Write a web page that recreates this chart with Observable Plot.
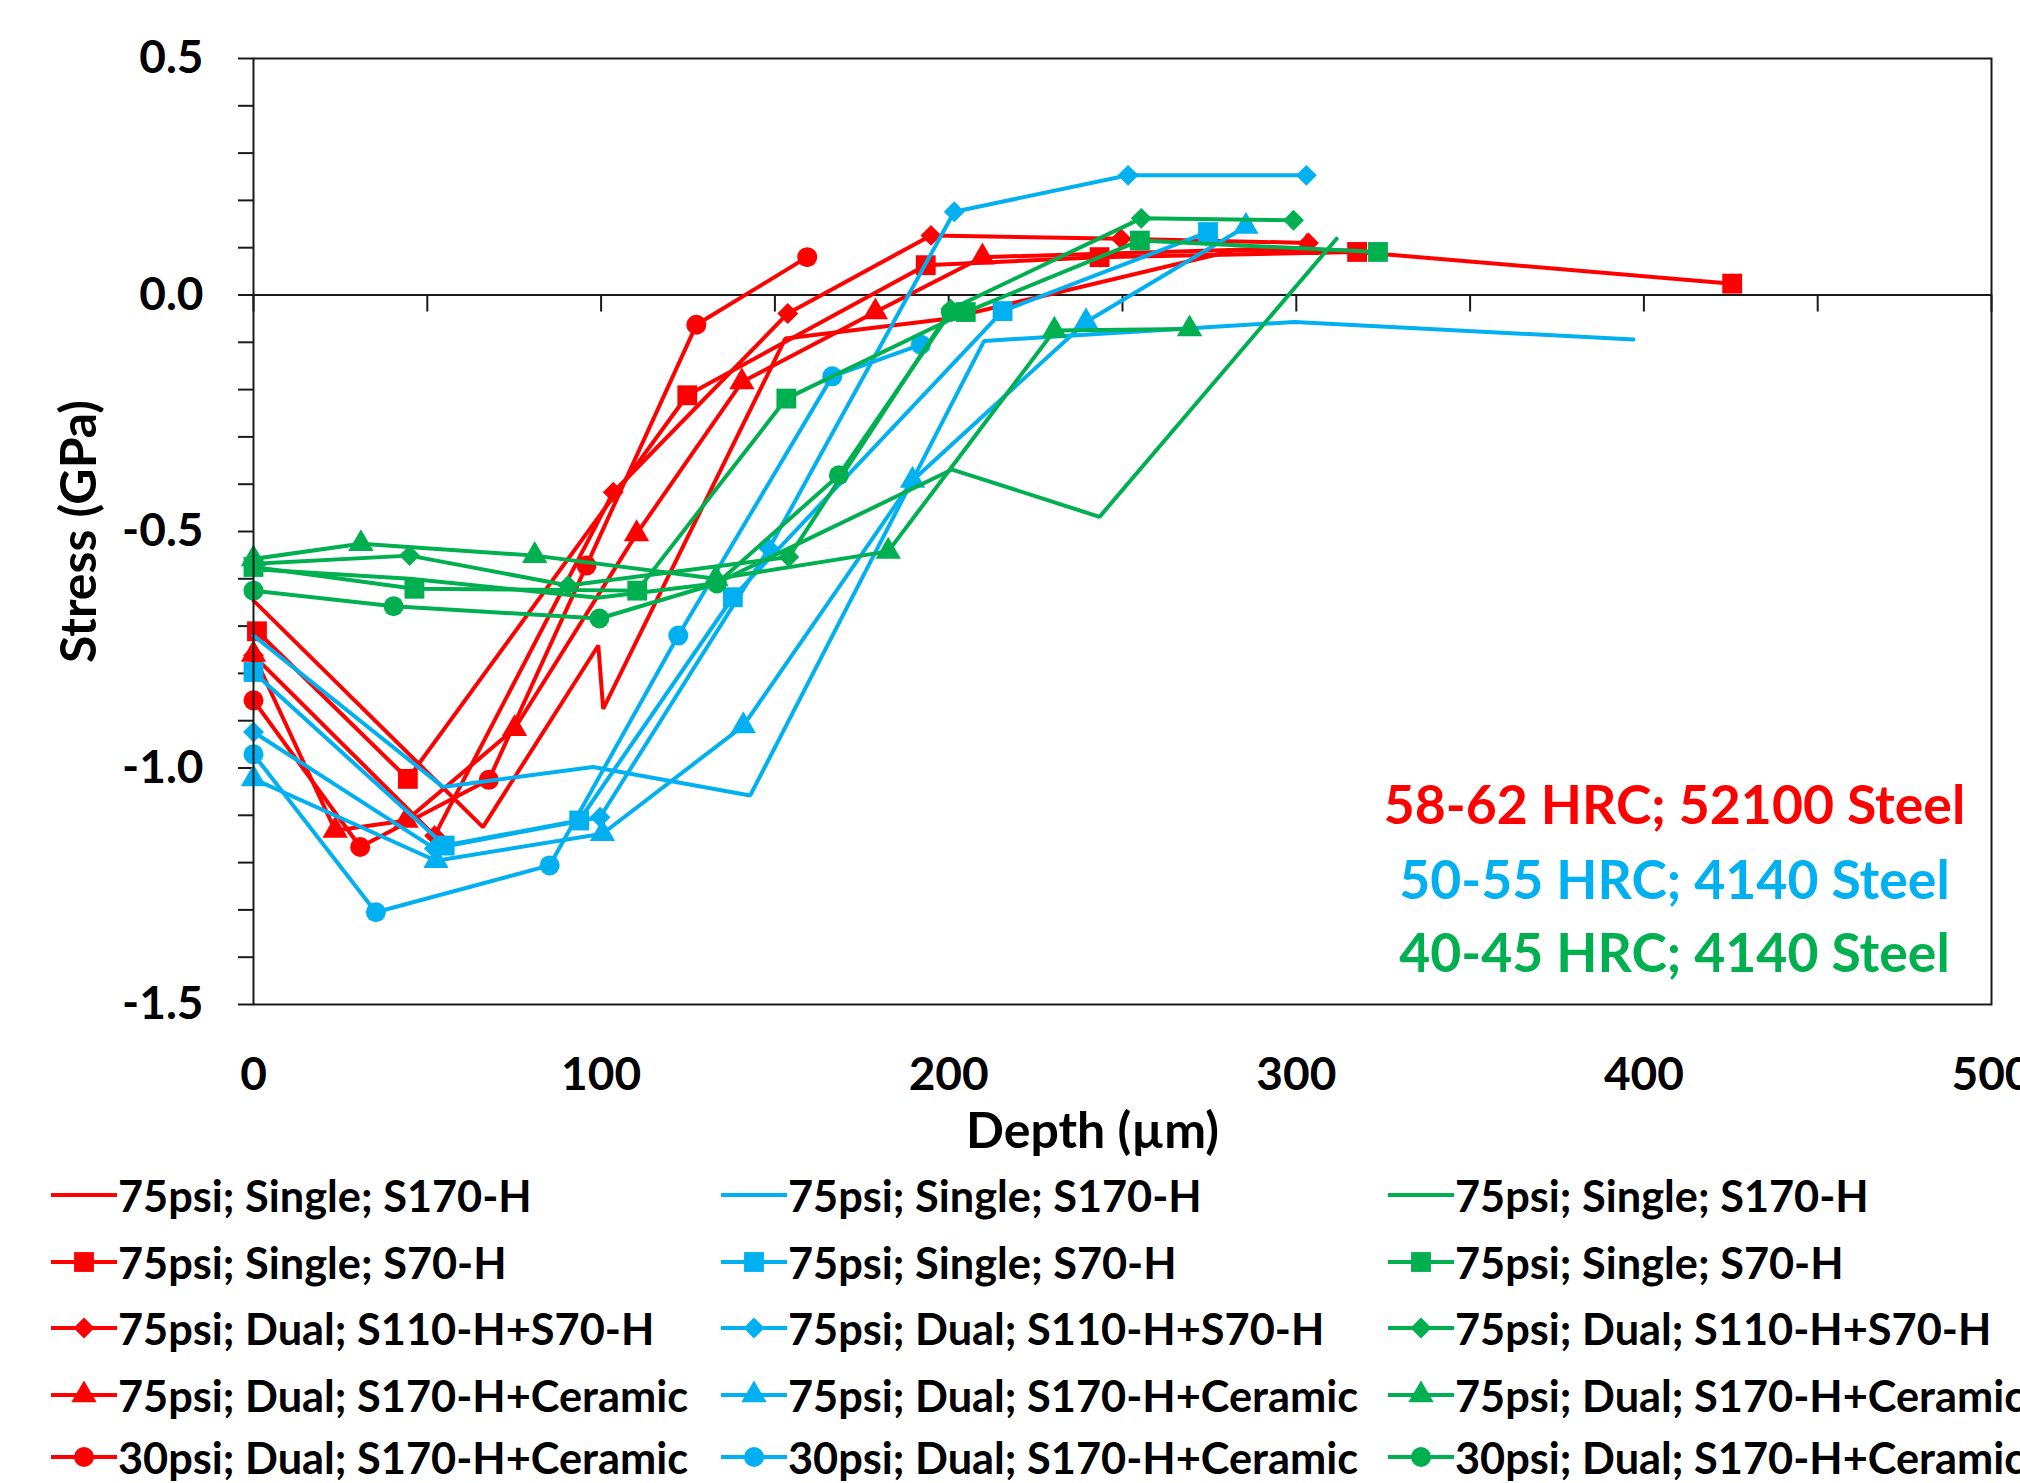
<!DOCTYPE html>
<html><head><meta charset="utf-8">
<script src="https://cdn.jsdelivr.net/npm/d3@7"></script>
<script src="https://cdn.jsdelivr.net/npm/@observablehq/plot@0.6"></script>
<style>
body{margin:0;background:#fff;width:2020px;height:1483px;overflow:hidden;font-family:Lato,sans-serif;font-weight:700}
#chart svg{font-family:Lato,sans-serif !important;font-weight:700}
#legend{position:relative;height:318px;width:2020px;overflow:hidden}
.item{position:absolute;display:flex;align-items:center;height:60px;font-size:43.3px;white-space:nowrap;color:#000}
.item svg{flex:none}
</style></head><body><div id="chart"></div><div id="legend"></div>
<script>
// ---- data: [depth (µm), stress (GPa)] ----
// 58-62 HRC; 52100 Steel (red)
const redSingle  = [[0,-0.646],[66,-1.125],[99.2,-0.741],[100.6,-0.875],[153,-0.092],[199.7,-0.05],[282,0.094],[318,0.094]];
const redS70     = [[1,-0.711],[44.4,-1.023],[124.8,-0.212],[193.4,0.063],[243.4,0.080],[317.5,0.091],[425.4,0.024]];
const redDual110 = [[0,-0.762],[52.1,-1.143],[103.5,-0.417],[153.7,-0.039],[194.9,0.126],[249.6,0.119],[303.5,0.110]];
const redDual170 = [[0,-0.76],[23.5,-1.132],[43.9,-1.111],[75.1,-0.917],[110.2,-0.505],[140.5,-0.184],[178.9,-0.036],[209.7,0.080],[303,0.10]];
const redCirc30  = [[0,-0.857],[30.7,-1.167],[67.7,-1.025],[95.8,-0.572],[127.4,-0.063],[159.3,0.080]];
// 50-55 HRC; 4140 Steel (blue)
const blueSingle  = [[0,-0.72],[54.5,-1.04],[97.7,-0.998],[142.9,-1.058],[210.2,-0.097],[299.5,-0.057],[397,-0.094]];
const blueS70     = [[0,-0.797],[55,-1.164],[93.7,-1.111],[137.9,-0.639],[215.5,-0.034],[274.6,0.133]];
const blueDual110 = [[0,-0.924],[52,-1.17],[99.7,-1.104],[148.3,-0.536],[201.6,0.176],[251.6,0.253],[302.9,0.253]];
const blueDual170 = [[0,-1.023],[52.5,-1.196],[100.4,-1.139],[140.9,-0.911],[189.6,-0.392],[239.5,-0.057],[285.5,0.145]];
const blueCirc30  = [[0,-0.971],[35.2,-1.305],[85.2,-1.206],[122.2,-0.720],[166.5,-0.172],[192,-0.105]];
// 40-45 HRC; 4140 Steel (green)
const greenSingle  = [[0,-0.58],[45,-0.6],[99,-0.64],[133,-0.61],[201,-0.369],[243.4,-0.469],[311.6,0.119]];
const greenS70     = [[0,-0.575],[46.3,-0.621],[110.4,-0.625],[153.3,-0.219],[204.9,-0.036],[255,0.115],[323.5,0.091]];
const greenDual110 = [[0,-0.568],[44.9,-0.551],[90.5,-0.614],[154,-0.554],[200.6,-0.03],[255.4,0.162],[299.2,0.158]];
const greenDual170 = [[0,-0.558],[30.9,-0.526],[80.9,-0.551],[133,-0.6],[182.6,-0.542],[230.4,-0.075],[269.3,-0.072]];
const greenCirc30  = [[0,-0.625],[40.3,-0.658],[99.5,-0.684],[133.3,-0.610],[168.4,-0.381],[200.6,-0.036]];

const seriesLabels = ["75psi; Single; S170-H","75psi; Single; S70-H","75psi; Dual; S110-H+S70-H","75psi; Dual; S170-H+Ceramic","30psi; Dual; S170-H+Ceramic"];
const groupLabels = ["58-62 HRC; 52100 Steel","50-55 HRC; 4140 Steel","40-45 HRC; 4140 Steel"];
const yTicks = d3.range(-15, 6).map(i => i / 10);
const xMinorTicks = d3.range(0, 501, 50);
const xLabelTicks = d3.range(0, 501, 100);

// ---- styling ----
const colors = ["#FF0000", "#00B0F0", "#00B050"];
const symbols = [null, "square", "diamond2", "triangle", "circle"];
const radii = [0, 11.2, 9.4, 9.4, 10];
const d3sym = {square: d3.symbolSquare, diamond2: d3.symbolDiamond2, triangle: d3.symbolTriangle, circle: d3.symbolCircle};
const groups = [
  [redSingle, redS70, redDual110, redDual170, redCirc30],
  [blueSingle, blueS70, blueDual110, blueDual170, blueCirc30],
  [greenSingle, greenS70, greenDual110, greenDual170, greenCirc30]
];
const axisColor = "#1a1a1a";

const marks = [];
groups.forEach((g, gi) => g.forEach((pts, si) => {
  marks.push(Plot.line(pts, {x: d => d[0], y: d => d[1], stroke: colors[gi], strokeWidth: 4, strokeLinejoin: "miter"}));
  if (symbols[si]) marks.push(Plot.dot(pts, {x: d => d[0], y: d => d[1], symbol: symbols[si], r: radii[si], fill: colors[gi], stroke: "none"}));
}));

const chart = Plot.plot({
  width: 2020, height: 1165,
  marginLeft: 253, marginRight: 29, marginTop: 58, marginBottom: 161,
  x: {domain: [0, 500]},
  y: {domain: [-1.5, 0.5]},
  marks: [
    Plot.ruleY([0], {stroke: axisColor, strokeWidth: 2}),
    Plot.ruleX(xMinorTicks, {x: d => d, y1: 0, y2: -0.036, stroke: axisColor, strokeWidth: 2}),
    Plot.axisY({ticks: yTicks, tickSize: 15, tickPadding: 35, strokeWidth: 2, stroke: axisColor, fontSize: 46, label: null,
      tickFormat: d => (Math.round(d * 10) % 5 === 0 ? d.toFixed(1) : "")}),
    Plot.axisX({ticks: xLabelTicks, tickSize: 0, tickPadding: 53, fontSize: 46, label: null}),
    ...marks,
    Plot.frame({stroke: axisColor, strokeWidth: 2}),
    Plot.text(["Depth (µm)"], {text: d => d, frameAnchor: "bottom", textAnchor: "middle", dy: 143, dx: -30, fontSize: 50, fontWeight: 700}),
    Plot.text(["Stress (GPa)"], {text: d => d, frameAnchor: "left", textAnchor: "middle", rotate: -90, dx: -174, fontSize: 50, fontWeight: 700}),
    Plot.text([groupLabels[0]], {text: d => d, frameAnchor: "bottom-right", textAnchor: "middle", dx: -317, dy: -181, fontSize: 53.5, fontWeight: 700, fill: colors[0]}),
    Plot.text([groupLabels[1]], {text: d => d, frameAnchor: "bottom-right", textAnchor: "middle", dx: -317, dy: -106, fontSize: 53.5, fontWeight: 700, fill: colors[1]}),
    Plot.text([groupLabels[2]], {text: d => d, frameAnchor: "bottom-right", textAnchor: "middle", dx: -317, dy: -33, fontSize: 53.5, fontWeight: 700, fill: colors[2]})
  ]
});
document.getElementById("chart").appendChild(chart);

// ---- legend ----
const legend = d3.select("#legend");
const colLeft = [51, 721, 1388];
const rowTop = [0, 67, 133, 200, 262];
colors.forEach((c, gi) => seriesLabels.forEach((lab, si) => {
  const item = legend.append("div").attr("class", "item")
    .style("left", colLeft[gi] + "px").style("top", rowTop[si] + "px");
  const sw = item.append("svg").attr("width", 67).attr("height", 40);
  sw.append("line").attr("x1", 0).attr("x2", 66).attr("y1", 20).attr("y2", 20).attr("stroke", c).attr("stroke-width", 4);
  if (symbols[si]) {
    sw.append("path").attr("transform", "translate(33,20)")
      .attr("d", d3.symbol(d3sym[symbols[si]], Math.PI * radii[si] * radii[si])()).attr("fill", c);
  }
  item.append("span").text(lab);
}));
</script></body></html>
